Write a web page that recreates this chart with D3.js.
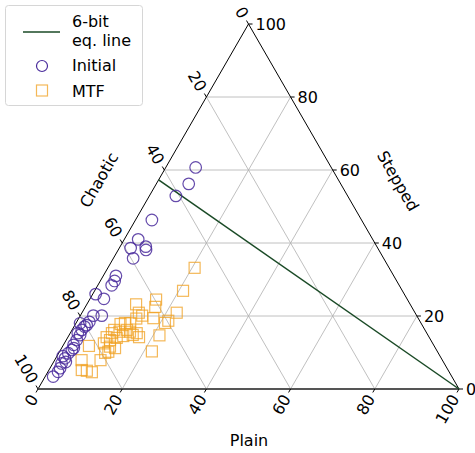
<!DOCTYPE html>
<html>
<head>
<meta charset="utf-8">
<script src="https://cdn.jsdelivr.net/npm/d3@7"></script>
<style>
  body { margin: 0; background: #fff; }
  text { font-family: "DejaVu Sans", sans-serif; font-size: 16px; fill: #000; }
</style>
</head>
<body>
<div id="chart"></div>
<script>
// ternary values, in percent (chaotic = 100 - plain - stepped)
var initialPlain   = [7.1, 7.7, 6.3, 3.9, 3.3, 2.7, 6.1, 6.6, 4.7, 3.0, 3.4, 3.3, 3.3, 0.7, 5.1, 3.1, 3.0, 2.5, 1.0, 2.8, 2.3, 2.6, 2.5, 2.4, 2.7, 2.3, 2.2, 2.1, 2.4, 2.4, 1.9, 1.8, 2.9, 2.9, 1.4]
var initialStepped = [60.7, 56.2, 52.9, 46.3, 41.0, 38.6, 39.0, 38.1, 35.8, 31.0, 29.6, 28.4, 24.7, 26.0, 20.1, 20.1, 18.4, 17.1, 18.0, 17.5, 16.2, 14.8, 13.4, 12.1, 10.7, 9.8, 8.4, 7.0, 5.7, 4.7, 3.4, 15.3, 11.2, 7.4, 9.0]

var mtfPlain   = [20.6, 21.0, 15.8, 16.6, 11.7, 13.5, 14.7, 17.7, 22.5, 21.6, 21.1, 13.7, 12.9, 10.7, 10.0, 13.0, 15.8, 16.9, 21.5, 21.9, 6.2, 9.2, 9.4, 11.3, 12.7, 10.9, 6.4, 7.8, 9.1, 10.5, 11.6, 9.9, 11.5, 14.0, 15.1, 11.7, 11.0, 13.0, 10.4, 11.6]
var mtfStepped = [33.2, 26.9, 24.5, 22.5, 23.2, 20.9, 20.1, 19.4, 20.9, 18.7, 18.1, 19.3, 18.0, 17.8, 16.2, 16.2, 15.3, 14.2, 14.7, 10.3, 11.8, 14.2, 12.5, 11.6, 11.2, 7.9, 7.9, 5.2, 5.0, 4.6, 10.2, 15.3, 15.7, 15.7, 14.8, 14.0, 9.9, 14.5, 13.4, 18.1]

// 6-bit equality line end points [plain, stepped]
var eqLine = [[100, 0], [0, 57.3]]

var ticks = [0, 20, 40, 60, 80, 100]
var gridVals = [20, 40, 60, 80]

var purple = "#4a2c9c"
var orange = "#f0a020"
var green = "#1a4a26"

var svg = d3.select("#chart").append("svg")
  .attr("width", 475).attr("height", 453)

// plain + stepped/2 runs along the base, stepped goes up
var xScale = d3.scaleLinear().domain([0, 100]).range([38, 459])
var yScale = d3.scaleLinear().domain([0, 100]).range([389, 24])

function pos(p, s) { return [xScale(p + s / 2), yScale(s)] }

var line = d3.line()

// grid
var grid = svg.append("g").attr("stroke", "#b0b0b0").attr("stroke-width", 0.8).attr("fill", "none")
gridVals.forEach(function(v) {
  grid.append("path").attr("d", line([pos(0, v), pos(100 - v, v)]))       // stepped
  grid.append("path").attr("d", line([pos(v, 0), pos(v, 100 - v)]))       // plain
  grid.append("path").attr("d", line([pos(100 - v, 0), pos(0, 100 - v)])) // chaotic
})

// frame
svg.append("path").attr("d", line([pos(0, 0), pos(0, 100), pos(100, 0)]))
  .attr("fill", "none").attr("stroke", "#000").attr("stroke-width", 1)
svg.append("path").attr("d", line([pos(0, 0), pos(100, 0)]))
  .attr("fill", "none").attr("stroke", "#555").attr("stroke-width", 1.8)

// ticks and labels
var tl = 4
ticks.forEach(function(v) {
  // plain (bottom)
  var a = pos(v, 0)
  svg.append("path").attr("d", line([a, [a[0] - tl * 0.5, a[1] + tl * 0.866]])).attr("stroke", "#000")
  var ax = a[0] - 8 * 0.5, ay = a[1] + 8 * 0.866
  svg.append("text").attr("transform", "translate(" + ax + "," + ay + ") rotate(-60)")
    .attr("text-anchor", "end").attr("dy", "0.35em").text(v)

  // stepped (right)
  var b = pos(100 - v, v)
  svg.append("path").attr("d", line([b, [b[0] + tl, b[1]]])).attr("stroke", "#000")
  svg.append("text").attr("x", b[0] + 7).attr("y", b[1]).attr("dy", "0.35em").text(v)

  // chaotic (left)
  var c = pos(0, 100 - v)
  svg.append("path").attr("d", line([c, [c[0] - tl * 0.5, c[1] - tl * 0.866]])).attr("stroke", "#000")
  var cx = c[0] - 8 * 0.5, cy = c[1] - 8 * 0.866
  svg.append("text").attr("transform", "translate(" + cx + "," + cy + ") rotate(60)")
    .attr("text-anchor", "end").attr("dy", "0.35em").text(v)
})

// axis titles
svg.append("text").attr("x", 249).attr("y", 440).attr("text-anchor", "middle").attr("dy", "0.35em").text("Plain")
svg.append("text").attr("transform", "translate(398,181) rotate(60)").attr("text-anchor", "middle").attr("dy", "0.35em").text("Stepped")
svg.append("text").attr("transform", "translate(99,180) rotate(-60)").attr("text-anchor", "middle").attr("dy", "0.35em").text("Chaotic")

// equality line
svg.append("path").attr("d", line(eqLine.map(function(d) { return pos(d[0], d[1]) })))
  .attr("fill", "none").attr("stroke", green).attr("stroke-width", 1.5)

// MTF squares
var sq = 11
svg.append("g").selectAll("rect").data(d3.range(mtfPlain.length)).join("rect")
  .attr("x", function(i) { return pos(mtfPlain[i], mtfStepped[i])[0] - sq / 2 })
  .attr("y", function(i) { return pos(mtfPlain[i], mtfStepped[i])[1] - sq / 2 })
  .attr("width", sq).attr("height", sq)
  .attr("fill", "none").attr("stroke", orange).attr("stroke-width", 1.2).attr("stroke-opacity", 0.75)

// Initial circles
svg.append("g").selectAll("circle").data(d3.range(initialPlain.length)).join("circle")
  .attr("cx", function(i) { return pos(initialPlain[i], initialStepped[i])[0] })
  .attr("cy", function(i) { return pos(initialPlain[i], initialStepped[i])[1] })
  .attr("r", 5.8)
  .attr("fill", "none").attr("stroke", purple).attr("stroke-width", 1.2).attr("stroke-opacity", 0.85)

// legend
var lg = svg.append("g")
lg.append("rect").attr("x", 5.5).attr("y", 5.5).attr("width", 137).attr("height", 100).attr("rx", 3)
  .attr("fill", "#fff").attr("fill-opacity", 0.8).attr("stroke", "#d6d6d6")
lg.append("path").attr("d", line([[23, 32], [60, 32]])).attr("stroke", green).attr("stroke-width", 1.5)
lg.append("text").attr("x", 72).attr("y", 27).text("6-bit")
lg.append("text").attr("x", 72).attr("y", 46).text("eq. line")
lg.append("circle").attr("cx", 42).attr("cy", 66).attr("r", 5.5).attr("fill", "none").attr("stroke", purple).attr("stroke-width", 1.2)
lg.append("text").attr("x", 72).attr("y", 71).text("Initial")
lg.append("rect").attr("x", 36.5).attr("y", 85).attr("width", 11).attr("height", 11).attr("fill", "none").attr("stroke", orange).attr("stroke-width", 1.2).attr("stroke-opacity", 0.75)
lg.append("text").attr("x", 72).attr("y", 97).text("MTF")
</script>
</body>
</html>
